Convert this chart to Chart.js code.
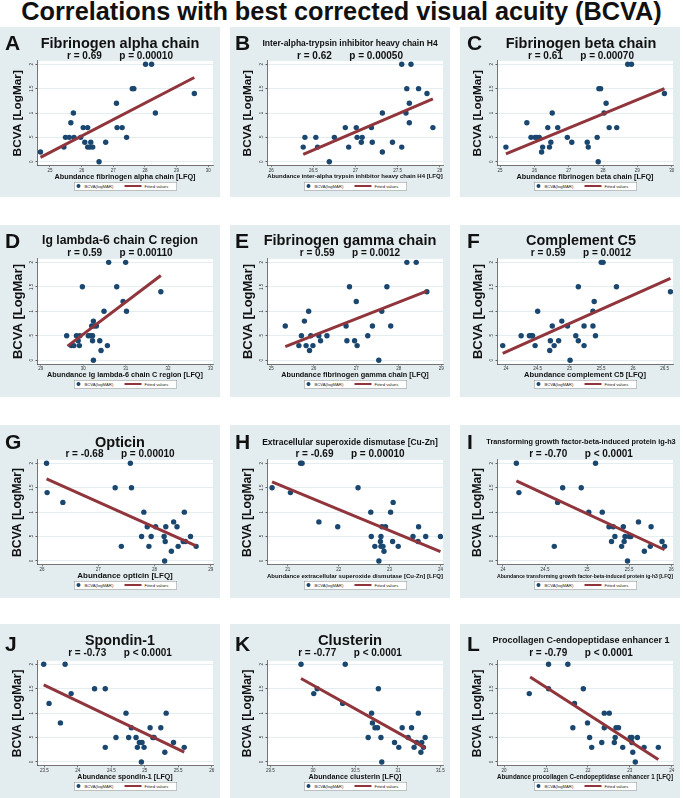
<!DOCTYPE html>
<html>
<head>
<meta charset="utf-8">
<script src="https://cdn.jsdelivr.net/npm/chart.js@4.4.1/dist/chart.umd.min.js"></script>
<style>
html, body { margin: 0; padding: 0; background: #fff; }
body { width: 683px; height: 798px; position: relative; overflow: hidden; font-family: "Liberation Sans", Arial, sans-serif; }
#mainTitle { position: absolute; left: 0; top: -1px; width: 683px; text-align: center; font-weight: bold; font-size: 25.3px; line-height: 25px; color: #111; }
.panel { position: absolute; background: #e3ecef; }
.panel canvas { position: absolute; left: 0; top: 0; }
.txt { position: absolute; white-space: pre; font-weight: bold; line-height: 1; color: #111; }
.legend { position: absolute; width: 206px; height: 17px; box-sizing: border-box; border: 1.6px solid #8a8a8a; background: #fff; transform: scale(0.5); transform-origin: 0 0; }
.legend .dot { position: absolute; left: 4px; top: 2.7px; width: 8px; height: 8px; border-radius: 50%; background: #1a476f; }
.legend .ln { position: absolute; left: 100px; top: 5px; width: 34px; height: 4px; background: #90353b; }
.legend .lt { position: absolute; top: 2px; font-size: 8.4px; line-height: 10px; color: #222; white-space: nowrap; }
</style>
</head>
<body>
<div id="mainTitle">Correlations with best corrected visual acuity (BCVA)</div>
<script>
// ---- data ----
const letters = ['A', 'B', 'C', 'D', 'E', 'F', 'G', 'H', 'I', 'J', 'K', 'L'];
const proteins = [
    'Fibrinogen alpha chain',
    'Inter-alpha-trypsin inhibitor heavy chain H4',
    'Fibrinogen beta chain',
    'Ig lambda-6 chain C region',
    'Fibrinogen gamma chain',
    'Complement C5',
    'Opticin',
    'Extracellular superoxide dismutase [Cu-Zn]',
    'Transforming growth factor-beta-induced protein ig-h3',
    'Spondin-1',
    'Clusterin',
    'Procollagen C-endopeptidase enhancer 1'
];
const rValues = ['0.69', '0.62', '0.61', '0.59', '0.59', '0.59', '-0.68', '-0.69', '-0.70', '-0.73', '-0.77', '-0.79'];
const pValues = ['= 0.00010', '= 0.00050', '= 0.00070', '= 0.00110', '= 0.0012', '= 0.0012',
                 '= 0.00010', '= 0.00010', '< 0.0001', '< 0.0001', '< 0.0001', '< 0.0001'];
const xTitles = [
    'Abundance fibrinogen alpha chain [LFQ]',
    'Abundance inter-alpha trypsin inhibitor heavy chain H4 [LFQ]',
    'Abundance fibrinogen beta chain [LFQ]',
    'Abundance Ig lambda-6 chain C region [LFQ]',
    'Abundance fibrinogen gamma chain [LFQ]',
    'Abundance complement C5 [LFQ]',
    'Abundance opticin [LFQ]',
    'Abundance extracellular superoxide dismutase [Cu-Zn] [LFQ]',
    'Abundance transforming growth factor-beta-induced protein ig-h3 [LFQ]',
    'Abundance spondin-1 [LFQ]',
    'Abundance clusterin [LFQ]',
    'Abundance procollagen C-endopeptidase enhancer 1 [LFQ]'
];
const yTitle = 'BCVA [LogMar]';
const seriesNames = ['BCVA(logMAR)', 'Fitted values'];
const yTickValues = [0, 0.5, 1, 1.5, 2];
const yTickLabels = ['0', '.5', '1', '1.5', '2'];

const xTicksA = ['25', '26', '27', '28', '29', '30'];
const xTicksB = ['26', '26.5', '27', '27.5', '28'];
const xTicksC = ['25', '26', '27', '28', '29', '30'];
const xTicksD = ['29', '30', '31', '32', '33'];
const xTicksE = ['25', '26', '27', '28', '29'];
const xTicksF = ['24', '24.5', '25', '25.5', '26', '26.5'];
const xTicksG = ['26', '27', '28', '29'];
const xTicksH = ['21', '22', '23', '24'];
const xTicksI = ['24', '24.5', '25', '25.5', '26'];
const xTicksJ = ['23.5', '24', '24.5', '25', '25.5', '26'];
const xTicksK = ['29.5', '30', '30.5', '31', '31.5'];
const xTicksL = ['20', '21', '22', '23', '24'];

const xA = [24.7, 25.44, 25.49, 25.61, 25.66, 25.74, 25.76, 25.97, 26.05, 26.1, 26.19, 26.19, 26.26, 26.29, 26.35, 26.55, 26.76, 27.1, 27.12, 27.28, 27.42, 27.6, 27.65, 28.02, 28.21, 28.33, 29.56];
const yA = [0.2, 0.3, 0.5, 0.5, 0.8, 1.0, 0.5, 0.5, 0.7, 0.4, 0.7, 0.3, 0.3, 0.4, 0.3, 0.0, 0.4, 1.2, 0.7, 0.7, 0.5, 1.5, 1.5, 2.0, 2.0, 1.0, 1.4];
const fitXA = [24.7, 29.56], fitYA = [0.09, 1.73];

const xB = [26.38, 26.4, 26.53, 26.55, 26.69, 26.75, 26.88, 26.92, 27.01, 27.02, 27.07, 27.08, 27.19, 27.2, 27.32, 27.32, 27.44, 27.55, 27.55, 27.6, 27.61, 27.64, 27.64, 27.66, 27.75, 27.85, 27.92];
const yB = [0.3, 0.5, 0.5, 0.3, 0.0, 0.5, 0.7, 0.3, 0.7, 0.5, 0.4, 0.5, 0.7, 0.4, 1.0, 0.2, 0.4, 2.0, 0.3, 1.0, 1.5, 1.2, 0.8, 2.0, 1.5, 1.4, 0.7];
const fitXB = [26.38, 27.92], fitYB = [0.15, 1.29];

const xC = [25.17, 25.78, 25.9, 26.02, 26.07, 26.14, 26.21, 26.24, 26.39, 26.44, 26.48, 26.52, 26.68, 26.96, 27.09, 27.54, 27.57, 27.83, 27.86, 27.88, 27.93, 28.03, 28.09, 28.18, 28.4, 28.72, 28.83, 29.79];
const yC = [0.3, 0.8, 0.5, 0.5, 0.5, 0.5, 0.2, 0.3, 0.7, 0.3, 0.4, 1.0, 0.7, 0.5, 0.4, 0.4, 0.3, 0.5, 0.0, 1.5, 1.5, 1.0, 1.2, 0.7, 0.7, 2.0, 2.0, 1.4];
const fitXC = [25.17, 29.79], fitYC = [0.16, 1.5];

const xD = [29.61, 29.72, 29.78, 29.84, 29.88, 29.91, 29.92, 29.98, 30.12, 30.17, 30.2, 30.22, 30.24, 30.26, 30.22, 30.24, 30.31, 30.39, 30.42, 30.49, 30.57, 30.6, 30.79, 30.94, 31.0, 31.02, 31.83];
const yD = [0.5, 0.3, 0.3, 0.5, 0.4, 0.3, 0.5, 1.5, 0.5, 0.5, 0.7, 0.5, 0.8, 0.7, 0.4, 0.0, 0.7, 0.4, 0.2, 1.0, 0.3, 2.0, 1.5, 1.2, 2.0, 1.0, 1.4];
const fitXD = [29.63, 31.83], fitYD = [0.29, 1.73];

const xE = [25.33, 25.65, 25.71, 25.78, 25.82, 25.88, 25.9, 25.93, 25.98, 26.12, 26.16, 26.31, 26.76, 26.78, 26.84, 26.96, 27.0, 27.02, 27.27, 27.38, 27.53, 27.6, 27.72, 27.81, 28.19, 28.41, 28.66];
const yE = [0.7, 0.3, 0.5, 0.8, 0.3, 1.0, 0.2, 0.5, 0.3, 0.5, 0.4, 0.5, 0.7, 0.4, 1.5, 0.4, 1.2, 0.3, 0.5, 0.7, 0.0, 1.0, 1.5, 0.7, 2.0, 2.0, 1.4];
const fitXE = [25.33, 28.66], fitYE = [0.28, 1.41];

const xF = [23.95, 24.24, 24.37, 24.4, 24.42, 24.46, 24.5, 24.7, 24.69, 24.73, 24.76, 24.83, 24.88, 24.97, 25.01, 25.1, 25.14, 25.14, 25.23, 25.23, 25.37, 25.37, 25.39, 25.41, 25.5, 25.53, 25.74, 26.59];
const yF = [0.3, 0.5, 0.5, 0.5, 0.5, 0.3, 1.0, 0.4, 0.2, 0.7, 0.3, 0.4, 0.8, 0.7, 0.0, 0.5, 1.5, 0.4, 0.7, 0.3, 0.7, 1.0, 1.2, 0.5, 2.0, 2.0, 1.5, 1.4];
const fitXF = [23.95, 26.59], fitYF = [0.14, 1.67];

const xG = [26.08, 26.09, 26.37, 27.3, 27.41, 27.57, 27.59, 27.77, 27.81, 27.87, 27.9, 27.94, 28.02, 28.17, 28.19, 28.2, 28.18, 28.3, 28.34, 28.4, 28.42, 28.51, 28.53, 28.55, 28.64, 28.74];
const yG = [2.0, 1.4, 1.2, 1.5, 0.3, 2.0, 1.5, 0.5, 1.0, 0.7, 0.3, 0.5, 0.7, 0.5, 0.4, 0.7, 0.0, 0.2, 0.8, 0.7, 0.3, 0.4, 1.0, 0.4, 0.5, 0.3];
const fitXG = [26.08, 28.74], fitYG = [1.68, 0.31];

const xH = [20.69, 21.05, 21.25, 21.28, 21.61, 21.98, 22.38, 22.63, 22.64, 22.71, 22.79, 22.82, 22.83, 22.83, 22.85, 22.87, 22.89, 22.92, 23.02, 23.06, 23.07, 23.17, 23.46, 23.56, 23.57, 23.71, 24.0];
const yH = [1.5, 1.4, 2.0, 2.0, 0.8, 0.7, 1.5, 1.0, 0.5, 0.3, 0.0, 0.4, 0.5, 0.3, 0.7, 0.3, 0.2, 0.7, 1.0, 0.4, 1.2, 0.3, 0.5, 0.4, 0.7, 0.5, 0.5];
const fitXH = [20.69, 24.0], fitYH = [1.62, 0.19];

const xI = [24.16, 24.19, 24.61, 24.65, 24.71, 24.93, 25.02, 25.1, 25.18, 25.26, 25.29, 25.31, 25.33, 25.41, 25.43, 25.44, 25.45, 25.48, 25.5, 25.52, 25.61, 25.68, 25.75, 25.76, 25.89, 25.92];
const yI = [2.0, 1.4, 0.3, 1.2, 1.5, 1.5, 1.0, 2.0, 1.0, 0.7, 0.4, 0.7, 0.5, 0.3, 0.7, 0.4, 0.5, 0.0, 0.5, 0.5, 0.8, 0.2, 0.3, 0.7, 0.4, 0.3];
const fitXI = [24.16, 25.92], fitYI = [1.64, 0.23];

const xJ = [23.49, 23.57, 23.74, 23.81, 23.9, 24.25, 24.41, 24.41, 24.57, 24.72, 24.76, 24.8, 24.87, 24.89, 24.92, 24.95, 24.96, 24.99, 25.08, 25.12, 25.14, 25.24, 25.3, 25.32, 25.43, 25.59];
const yJ = [2.0, 1.2, 0.8, 2.0, 1.4, 1.5, 1.5, 0.3, 0.5, 1.0, 0.5, 0.7, 0.5, 0.3, 0.4, 0.0, 0.4, 0.3, 0.7, 0.5, 0.5, 0.7, 0.2, 1.0, 0.4, 0.3];
const fitXJ = [23.49, 25.59], fitYJ = [1.58, 0.2];

const xK = [29.86, 30.01, 30.05, 30.35, 30.38, 30.65, 30.69, 30.7, 30.73, 30.76, 30.77, 30.8, 30.81, 30.96, 31.01, 31.05, 31.12, 31.16, 31.19, 31.22, 31.24, 31.27, 31.28, 31.3, 31.32];
const yK = [2.0, 1.4, 1.5, 1.2, 2.0, 0.5, 1.0, 0.8, 0.7, 0.7, 1.5, 0.5, 0.0, 0.4, 0.3, 0.7, 0.5, 0.7, 0.3, 0.4, 1.0, 0.2, 0.4, 0.3, 0.5];
const fitXK = [29.86, 31.32], fitYK = [1.71, 0.29];

const xL = [20.6, 21.06, 21.06, 21.52, 21.64, 21.68, 21.89, 21.99, 22.04, 22.09, 22.33, 22.39, 22.39, 22.51, 22.63, 22.65, 22.67, 22.73, 22.83, 23.01, 23.05, 23.05, 23.07, 23.13, 23.18, 23.34, 23.68];
const yL = [1.4, 2.0, 1.5, 2.0, 0.7, 1.2, 1.5, 0.8, 0.5, 0.3, 0.4, 1.0, 0.7, 1.0, 0.4, 0.5, 0.7, 0.7, 0.3, 0.5, 0.5, 0.4, 0.2, 0.0, 0.5, 0.3, 0.3];
const fitXL = [20.62, 23.68], fitYL = [1.74, 0.05];

const xValues = [xA, xB, xC, xD, xE, xF, xG, xH, xI, xJ, xK, xL];
const yValues = [yA, yB, yC, yD, yE, yF, yG, yH, yI, yJ, yK, yL];
const fitXs = [fitXA, fitXB, fitXC, fitXD, fitXE, fitXF, fitXG, fitXH, fitXI, fitXJ, fitXK, fitXL];
const fitYs = [fitYA, fitYB, fitYC, fitYD, fitYE, fitYF, fitYG, fitYH, fitYI, fitYJ, fitYK, fitYL];
const xTicks = [xTicksA, xTicksB, xTicksC, xTicksD, xTicksE, xTicksF, xTicksG, xTicksH, xTicksI, xTicksJ, xTicksK, xTicksL];

// ---- layout and style ----
const NAVY = '#1a476f';
const MAROON = '#90353b';
const GRID = '#dde8eb';
const AXIS = '#3a3a3a';
const PANEL_W = 220;
const CHART_L = 37, CHART_R = 213;   // plot region inside a panel
const XH = 17;                        // height of x axis box (ticks + title)
const cols = [0, 230, 460];
const rows = [
    { top: 27,  h: 170, ct: 60.9,  cb: 165.6, letter: 41.5,  title: 43,    sub: 55.5 },
    { top: 225, h: 172, ct: 258.9, cb: 364.2, letter: 240,   title: 239.5, sub: 252.5 },
    { top: 425, h: 173, ct: 459.9, cb: 564.9, letter: 440.5, title: 441.5, sub: 454 },
    { top: 624, h: 174, ct: 660.9, cb: 765.9, letter: 642.5, title: 640,   sub: 652.8 }
];
const titleCenter = [120, 120, 121];
const letterLeft = [5, 5, 7];
const xRanges = [[24.59, 30.15], [25.95, 28.04], [24.91, 30.04], [28.91, 33.06], [24.9, 29.04], [23.86, 26.63],
                 [25.91, 29.04], [20.59, 24.05], [23.93, 26.02], [23.39, 26.02], [29.46, 31.53], [19.83, 24.03]];
const yRange = [-0.08, 2.07];
const titleSizes = [14.5, 8.5, 14.5, 12.2, 14.6, 14.45, 14.5, 8.5, 7.3, 14.3, 14.8, 9];
const xTitleSizes = [7.3, 6.0, 7.3, 7.27, 7.3, 7.57, 8.0, 6.13, 6.1, 7.1, 7.26, 7.2];
const yTitleSizes = [11.8, 13, 12.2, 12];
const Y_TITLE_X = 18;

// axis titles in the reference are tall and narrow: use the narrow face when it exists
function hasFont(name) {
    const c = document.createElement('canvas').getContext('2d');
    const s = 'BCVA Abundance mmwwii [LFQ]';
    c.font = '40px monospace';
    const w0 = c.measureText(s).width;
    c.font = `40px "${name}", monospace`;
    return Math.abs(c.measureText(s).width - w0) > 0.5;
}
const narrow = hasFont('Liberation Sans Narrow');
const axisFamily = narrow ? '"Liberation Sans Narrow", "Liberation Sans", sans-serif' : '"Liberation Sans", Arial, sans-serif';
const axisScale = narrow ? 1 / 0.82 : 1;

Chart.defaults.font.family = '"Liberation Sans", Arial, sans-serif';

// white plot region
const plotBg = {
    id: 'plotBg',
    beforeDraw(chart) {
        const a = chart.chartArea, ctx = chart.ctx;
        ctx.save();
        ctx.fillStyle = '#fff';
        ctx.fillRect(a.left, a.top, a.right - a.left, a.bottom - a.top);
        ctx.restore();
    }
};

// Stata style vertical tick labels on the y axis
const yLabels = {
    id: 'yLabels',
    afterDraw(chart) {
        const s = chart.scales.y, ctx = chart.ctx;
        ctx.save();
        ctx.font = '4.5px "Liberation Sans", Arial, sans-serif';
        ctx.fillStyle = '#333';
        ctx.textAlign = 'center';
        ctx.textBaseline = 'bottom';
        s.ticks.forEach((t, i) => {
            ctx.save();
            ctx.translate(chart.chartArea.left - 2.5, s.getPixelForValue(t.value));
            ctx.rotate(-Math.PI / 2);
            ctx.fillText(yTickLabels[i], 0, 0);
            ctx.restore();
        });
        ctx.restore();
    }
};

function addText(text, x, y, size, center) {
    const d = document.createElement('div');
    d.className = 'txt';
    d.textContent = text;
    d.style.left = x + 'px';
    d.style.top = y + 'px';
    d.style.fontSize = size + 'px';
    d.style.transform = center ? 'translate(-50%, -50%)' : 'translateY(-50%)';
    document.body.appendChild(d);
    return d;
}

function addLegend(cx, cy) {
    const lg = document.createElement('div');
    lg.className = 'legend';
    lg.style.left = (cx - 51.5) + 'px';
    lg.style.top = (cy - 4.25) + 'px';
    lg.innerHTML = '<span class="dot"></span><span class="lt" style="left:20px"></span>' +
                   '<span class="ln"></span><span class="lt" style="left:140px"></span>';
    const t = lg.querySelectorAll('.lt');
    t[0].textContent = seriesNames[0];
    t[1].textContent = seriesNames[1];
    document.body.appendChild(lg);
}

function buildPanel(i) {
    const col = i % 3, row = Math.floor(i / 3);
    const R = rows[row], left = cols[col];

    const panel = document.createElement('div');
    panel.className = 'panel';
    panel.style.left = left + 'px';
    panel.style.top = R.top + 'px';
    panel.style.width = PANEL_W + 'px';
    panel.style.height = R.h + 'px';
    const cv = document.createElement('canvas');
    cv.width = PANEL_W;
    cv.height = R.h;
    panel.appendChild(cv);
    document.body.appendChild(panel);

    // letter, title and r / p line
    addText(letters[i], left + letterLeft[col], R.letter, 21, false);
    const tx = left + titleCenter[col];
    addText(proteins[i], tx, R.title, titleSizes[i], true);
    const sub = addText('', tx, R.sub, 10, true);
    const r = document.createElement('span');
    r.textContent = 'r = ' + rValues[i];
    const p = document.createElement('span');
    p.textContent = 'p ' + pValues[i];
    p.style.marginLeft = '17.5px';
    sub.appendChild(r);
    sub.appendChild(p);

    addLegend(left + (CHART_L + CHART_R) / 2, R.cb + 20.5);

    const xs = xTitleSizes[i] * axisScale;
    const ys = yTitleSizes[row] * axisScale;
    const xtv = xTicks[i].map(Number);

    new Chart(cv, {
        type: 'scatter',
        data: {
            datasets: [
                {
                    type: 'line',
                    label: seriesNames[1],
                    data: fitXs[i].map((x, j) => ({ x: x, y: fitYs[i][j] })),
                    borderColor: MAROON,
                    borderWidth: 3,
                    pointRadius: 0,
                    fill: false,
                    order: 0
                },
                {
                    label: seriesNames[0],
                    data: xValues[i].map((x, j) => ({ x: x, y: yValues[i][j] })),
                    backgroundColor: NAVY,
                    borderColor: NAVY,
                    borderWidth: 0,
                    pointRadius: 2.7,
                    pointHoverRadius: 2.7,
                    order: 1
                }
            ]
        },
        options: {
            responsive: false,
            animation: false,
            events: [],
            layout: {
                padding: {
                    left: 0,
                    right: PANEL_W - CHART_R,
                    top: R.ct - R.top,
                    bottom: R.h - (R.cb - R.top) - XH
                }
            },
            plugins: { legend: { display: false }, tooltip: { enabled: false } },
            scales: {
                x: {
                    type: 'linear',
                    min: xRanges[i][0],
                    max: xRanges[i][1],
                    afterBuildTicks: a => { a.ticks = xtv.map(v => ({ value: v })); },
                    afterFit: s => { s.height = XH; },
                    grid: { drawOnChartArea: false, color: AXIS, tickColor: AXIS, tickLength: 1.5, lineWidth: 0.6 },
                    border: { display: true, color: AXIS, width: 0.7 },
                    ticks: {
                        autoSkip: false, maxRotation: 0, padding: 0.5, color: '#333',
                        font: { size: 4.5 },
                        callback: (v, k) => xTicks[i][k]
                    },
                    title: {
                        display: true,
                        text: xTitles[i],
                        color: '#111',
                        font: { family: axisFamily, size: xs, weight: 'bold', lineHeight: 1 },
                        padding: { top: 0, bottom: XH - 11 - xs / 2 }
                    }
                },
                y: {
                    min: yRange[0],
                    max: yRange[1],
                    afterBuildTicks: a => { a.ticks = yTickValues.map(v => ({ value: v })); },
                    afterFit: s => { s.width = CHART_L; },
                    grid: { color: GRID, tickColor: AXIS, tickLength: 1.5, lineWidth: 0.8 },
                    border: { display: true, color: AXIS, width: 0.7 },
                    ticks: { display: false },
                    title: {
                        display: true,
                        text: yTitle,
                        color: '#111',
                        font: { family: axisFamily, size: ys, weight: 'bold', lineHeight: 1 },
                        padding: { top: Y_TITLE_X - ys / 2, bottom: 0 }
                    }
                }
            }
        },
        plugins: [plotBg, yLabels]
    });
}

document.addEventListener('DOMContentLoaded', () => {
    for (let i = 0; i < 12; i++) buildPanel(i);
});
</script>
</body>
</html>
